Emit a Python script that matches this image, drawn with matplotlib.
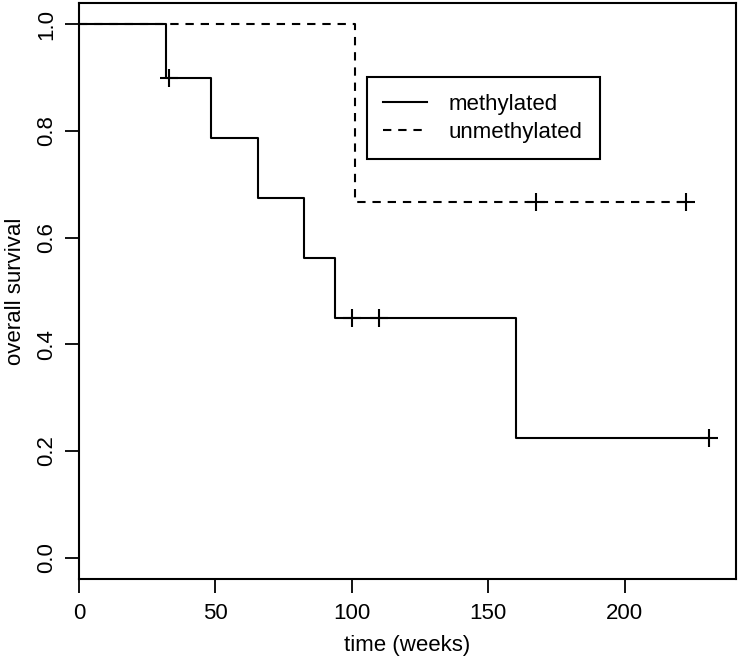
import matplotlib
matplotlib.use("Agg")
import matplotlib.pyplot as plt

plt.rcParams['font.family'] = ['Liberation Sans', 'DejaVu Sans']

# Kaplan-Meier steps (time in weeks, survival)
meth_times = [0, 32, 48.5, 65.5, 82.5, 94, 160, 231]
meth_surv = [1.0, 0.9, 0.7875, 0.675, 0.5625, 0.45, 0.225, 0.225]
meth_cens_t = [33, 100, 110, 231]
meth_cens_s = [0.9, 0.45, 0.45, 0.225]

unmeth_times = [0, 101, 222.5]
unmeth_surv = [1.0, 0.667, 0.667]
unmeth_cens_t = [167.5, 222.5]
unmeth_cens_s = [0.667, 0.667]

xticks = [0, 50, 100, 150, 200]
yticks = [0.0, 0.2, 0.4, 0.6, 0.8, 1.0]
ytick_labels = ['0.0', '0.2', '0.4', '0.6', '0.8', '1.0']

fig = plt.figure(figsize=(7.4, 6.6), dpi=100)
ax = fig.add_axes([79 / 740, 81 / 660, 657 / 740, 576 / 660])

lw = 1.5
ax.step(meth_times, meth_surv, where='post', color='black', lw=lw, label='methylated')
ax.step(unmeth_times, unmeth_surv, where='post', color='black', lw=lw,
        dashes=(4, 3.3), label='unmethylated')
ax.plot(meth_cens_t, meth_cens_s, ls='none', marker='+', ms=13, mew=1.5, color='black')
ax.plot(unmeth_cens_t, unmeth_cens_s, ls='none', marker='+', ms=13, mew=1.5, color='black')

ax.set_xlim(0, 240.8)
ax.set_ylim(-0.04, 1.04)
ax.set_xticks(xticks)
ax.set_yticks(yticks)
ax.set_yticklabels(ytick_labels, rotation=90, va='center')
ax.tick_params(direction='out', length=10, width=1.3, labelsize=16, pad=7)
ax.tick_params(axis='y', pad=6)
for s in ax.spines.values():
    s.set_linewidth(1.5)

ax.set_xlabel('time (weeks)', fontsize=16, labelpad=8)
ax.set_ylabel('overall survival', fontsize=16, labelpad=7)

leg = ax.legend(loc='upper left', bbox_to_anchor=(0.438, 0.8715), borderaxespad=0,
                fontsize=16, frameon=True, fancybox=False, framealpha=1,
                handlelength=1.95, handletextpad=1.0, borderpad=0.75, labelspacing=0.32)
leg.get_frame().set_edgecolor('black')
leg.get_frame().set_linewidth(1.5)

fig.savefig('out.png', dpi=100)
